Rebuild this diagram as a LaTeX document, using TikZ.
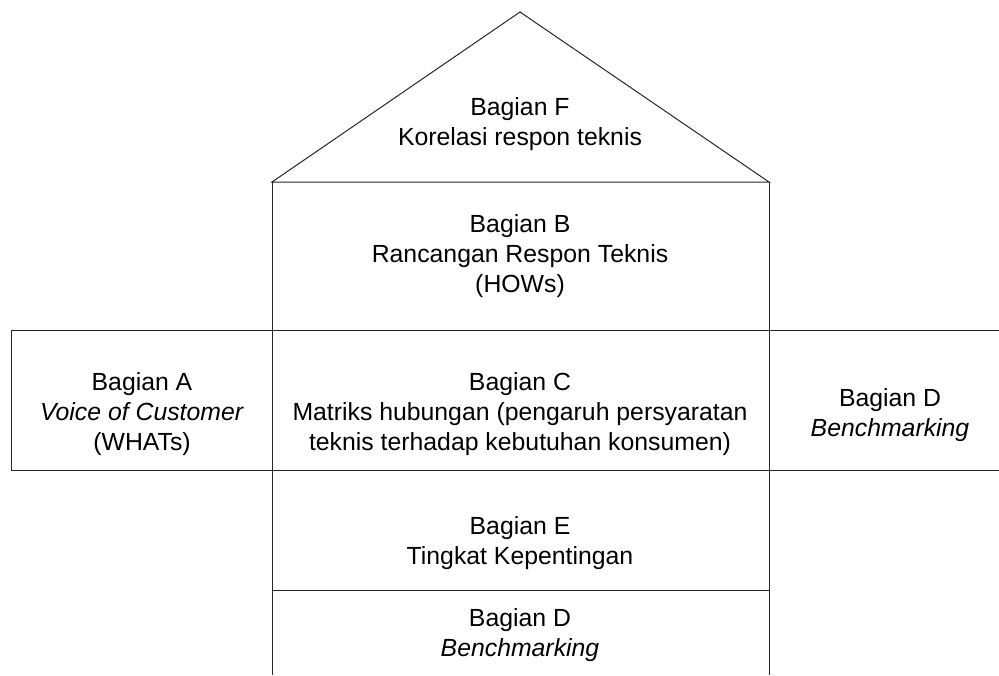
\documentclass[tikz,border=0pt]{standalone}
\usepackage{fontspec}
\setmainfont{Liberation Sans}
\begin{document}
\begin{tikzpicture}[x=0.75pt,y=-0.75pt,
  edge/.style={draw=black!85,line width=0.75pt},
  lbl/.style={align=center,font=\fontsize{18.6}{22.3}\selectfont,inner sep=0pt}]
\useasboundingbox (0,0) rectangle (999,675);
% corners
\coordinate (apex) at (520,12);
\coordinate (rl) at (272,182);
\coordinate (rr) at (769,182);
\coordinate (bl) at (272,330);
\coordinate (br) at (769,330);
\coordinate (cl) at (272,470);
\coordinate (cr) at (769,470);
\coordinate (el) at (272,590);
\coordinate (er) at (769,590);
\coordinate (dl) at (272,675);
\coordinate (dr) at (769,675);
\coordinate (atl) at (11,330);
\coordinate (abl) at (11,470);
\coordinate (dtr) at (999,330);
\coordinate (dbr) at (999,470);
% roof
\draw[edge] (rl) -- (apex) -- (rr) -- cycle;
% central column
\draw[edge] (rl) -- (dl);
\draw[edge] (rr) -- (dr);
\draw[edge] (bl) -- (br);
\draw[edge] (cl) -- (cr);
\draw[edge] (el) -- (er);
% side boxes
\draw[edge] (bl) -- (atl) -- (abl) -- (cl);
\draw[edge] (br) -- (dtr);
\draw[edge] (cr) -- (dbr);
% texts
\node[lbl] (F) at (520,124) {Bagian F\\Korelasi respon teknis};
\node[lbl] (B) at (520,256) {Bagian B\\Rancangan Respon Teknis\\(HOWs)};
\node[lbl] (A) at (142,414) {Bagian A\\\textit{Voice of Customer}\\(WHATs)};
\node[lbl] (C) at (520,414) {Bagian C\\Matriks hubungan (pengaruh persyaratan\\teknis terhadap kebutuhan konsumen)};
\node[lbl] (D1) at (890,415) {Bagian D\\\textit{Benchmarking}};
\node[lbl] (E) at (520,543) {Bagian E\\Tingkat Kepentingan};
\node[lbl] (D2) at (520,635) {Bagian D\\\textit{Benchmarking}};
\end{tikzpicture}
\end{document}
